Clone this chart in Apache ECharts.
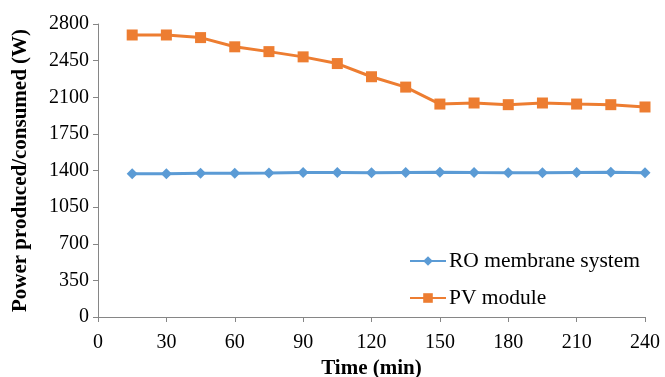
<!DOCTYPE html>
<html><head><meta charset="utf-8">
<script src="https://cdn.jsdelivr.net/npm/echarts@6/dist/echarts.min.js"></script>
<style>html,body{margin:0;padding:0;background:#fff}#c{width:665px;height:377px}</style>
</head><body><div id="c"></div>
<script>
var times = [15,30,45,60,75,90,105,120,135,150,165,180,195,210,225,240];
var roSystem = [1370,1370,1373,1373,1375,1381,1380,1378,1381,1384,1380,1379,1378,1381,1384,1378];
var pvModule = [2695,2695,2670,2582,2536,2486,2422,2296,2197,2035,2045,2029,2045,2035,2029,2007];
var seriesNames = ['RO membrane system','PV module'];

function pairs(xs, ys){ return xs.map(function(x,i){ return [x, ys[i]]; }); }
function plain(v){ return String(v); }

var font = 'Liberation Serif, Times New Roman, serif';
var chart = echarts.init(document.getElementById('c'), null, {renderer:'canvas'});
chart.setOption({
  animation:false,
  backgroundColor:'#fff',
  grid:{left:98,right:20,top:24,bottom:60,containLabel:false,outerBoundsMode:'none'},
  legend:{
    orient:'vertical', left:404, top:245, itemWidth:36, itemHeight:12, itemGap:15,
    textStyle:{fontFamily:font,fontSize:21.5,color:'#000',padding:[0,0,0,-2]},
    data:seriesNames
  },
  xAxis:{
    type:'value', min:0, max:240, interval:30,
    name:'Time (min)', nameLocation:'middle', nameGap:40,
    nameTextStyle:{fontFamily:font,fontSize:21,fontWeight:'bold',color:'#000'},
    axisLine:{lineStyle:{color:'#868686',width:1}},
    axisTick:{show:true,length:5,lineStyle:{color:'#868686'}},
    axisLabel:{fontFamily:font,fontSize:20,color:'#000',margin:16,formatter:plain},
    splitLine:{show:false}
  },
  yAxis:{
    type:'value', min:0, max:2800, interval:350,
    name:'Power produced/consumed (W)', nameLocation:'middle', nameGap:67,
    nameTextStyle:{fontFamily:font,fontSize:21,fontWeight:'bold',color:'#000'},
    axisLine:{show:true,lineStyle:{color:'#868686',width:1}},
    axisTick:{show:true,length:5,lineStyle:{color:'#868686'}},
    axisLabel:{fontFamily:font,fontSize:20,color:'#000',margin:9,formatter:plain},
    splitLine:{show:false}
  },
  series:[
    {name:seriesNames[0], type:'line', data:pairs(times, roSystem),
     symbol:'diamond', symbolSize:11, color:'#5B9BD5',
     lineStyle:{width:3,color:'#5B9BD5'}, itemStyle:{color:'#5B9BD5'}},
    {name:seriesNames[1], type:'line', data:pairs(times, pvModule),
     symbol:'rect', symbolSize:11, color:'#ED7D31',
     lineStyle:{width:3,color:'#ED7D31'}, itemStyle:{color:'#ED7D31'}}
  ]
});
</script></body></html>
